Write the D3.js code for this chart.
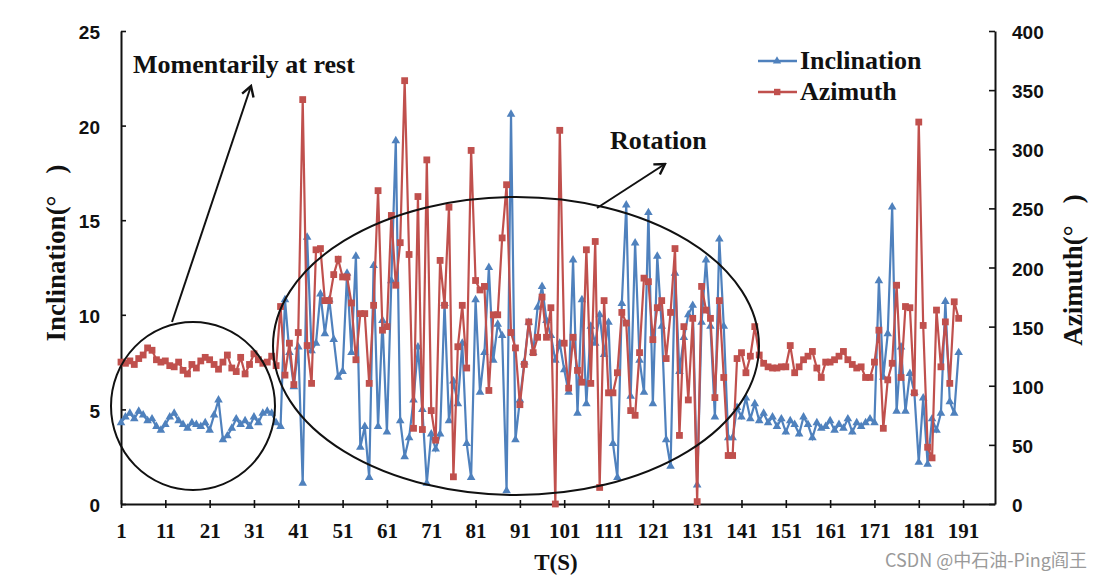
<!DOCTYPE html>
<html><head><meta charset="utf-8">
<script src="https://cdn.jsdelivr.net/npm/d3@7"></script>
<style>
body{margin:0;background:#fff}
svg{display:block}
.serif{font-family:"Liberation Serif","Times New Roman",serif;font-weight:bold;fill:#111}
.sans{font-family:"Liberation Sans",Arial,sans-serif;font-weight:bold;fill:#111}
</style>
</head><body>
<svg id="chart" width="1100" height="577"></svg>
<script>
const timeLabels = [1,11,21,31,41,51,61,71,81,91,101,111,121,131,141,151,161,171,181,191];
const leftTicks = [0,5,10,15,20,25];
const rightTicks = [0,50,100,150,200,250,300,350,400];
const seriesNames = ["Inclination","Azimuth"];

const inclination = [
4.3,4.6,4.8,4.5,4.9,4.7,4.4,4.5,4.1,3.9,4.2,4.6,4.8,4.4,4.2,4.0,4.3,4.2,4.1,4.3,3.9,4.7,5.5,3.4,3.6,4.0,4.5,4.2,4.4,4.1,4.6,4.3,4.8,4.9,4.8,4.3,
4.1,10.8,8.0,6.2,8.3,1.1,14.1,8.1,8.5,11.1,9.0,10.8,8.7,6.7,7.0,12.2,8.0,13.1,3.0,4.1,1.4,12.6,
4.1,9.7,3.8,11.8,19.2,4.4,2.5,3.5,5.5,8.3,5.0,1.1,3.7,2.9,3.7,10.6,4.4,6.5,5.3,8.5,3.2,1.4,10.8,
5.9,8.0,12.5,7.6,9.5,8.9,0.7,20.6,3.4,5.5,7.5,9.6,8.0,10.4,11.5,9.7,8.9,7.6,8.5,7.1,
5.9,12.9,4.8,10.8,5.3,9.4,8.5,10.0,7.9,9.6,3.2,1.4,10.6,15.8,5.7,13.8,7.6,5.9,15.4,5.3,13.1,9.4,3.4,2.0,
12.2,7.0,8.8,10.0,10.5,1.0,9.6,12.9,9.4,4.6,14.0,9.4,3.5,3.5,5.1,4.6,5.6,4.5,5.3,
4.4,4.8,4.3,4.6,4.1,4.5,3.8,4.4,4.2,3.7,4.6,4.2,3.5,4.3,4.0,4.1,4.4,3.9,4.2,4.0,4.5,3.8,4.3,4.1,4.3,4.5,4.3,11.8,
6.7,9.0,15.7,4.9,8.3,4.9,6.9,5.9,2.2,5.6,2.1,4.5,3.9,4.8,10.7,5.4,4.8,8.0
];
const azimuth = [
120,119,121,118,123,126,132,130,122,120,121,117,116,120,113,110,118,115,121,124,122,118,114,120,126,115,112,124,110,118,127,122,119,120,125,117,
167,109,136,101,145,342,134,102,215,216,172,172,194,207,192,192,170,122,161,161,102,168,
265,147,150,244,185,221,358,211,64,260,63,291,79,54,206,168,251,23,133,168,115,299,189,
181,184,96,160,160,225,270,145,132,84,118,154,128,141,175,141,166,0,316,136,
98,141,113,103,215,102,222,14,172,94,94,111,162,153,79,75,128,191,188,139,166,172,123,162,
216,58,150,88,157,2,184,164,157,90,172,107,41,41,123,128,111,125,150,
126,119,116,115,115,116,116,134,111,116,122,125,129,115,107,120,120,122,125,129,122,118,115,116,107,107,120,147,
64,105,119,185,107,167,166,94,323,151,48,39,164,116,154,102,171,157
];

const BLUE = "#4F81BD", RED = "#C0504D";
const svg = d3.select("#chart");
const x = d3.scaleLinear().domain([1,198.2]).range([121,995]);
const yL = d3.scaleLinear().domain([0,25]).range([504,31]);
const yR = d3.scaleLinear().domain([0,400]).range([504,31]);

// axes
const gx = svg.append("g").attr("transform","translate(0,504)")
  .call(d3.axisBottom(x).tickValues(timeLabels).tickSizeInner(4).tickSizeOuter(0).tickPadding(15).tickFormat(d3.format("d")));
gx.selectAll(".tick line").attr("y1",-4).attr("y2",4).attr("stroke","#111").attr("stroke-width",1.6);
gx.select(".domain").attr("stroke","#111").attr("stroke-width",2);
gx.selectAll("text").attr("class","serif").attr("font-size",21).attr("fill","#111");

const gl = svg.append("g").attr("transform","translate(121,0)")
  .call(d3.axisLeft(yL).tickValues(leftTicks).tickSizeInner(-5).tickSizeOuter(0).tickPadding(21));
gl.select(".domain").attr("stroke","#111").attr("stroke-width",2);
gl.selectAll(".tick line").attr("stroke","#111").attr("stroke-width",1.6);
gl.selectAll("text").attr("class","sans").attr("font-size",19).attr("dy","0.4em");

const gr = svg.append("g").attr("transform","translate(995,0)")
  .call(d3.axisRight(yR).tickValues(rightTicks).tickSizeInner(-6).tickSizeOuter(0).tickPadding(17));
gr.select(".domain").attr("stroke","#111").attr("stroke-width",2);
gr.selectAll(".tick line").attr("stroke","#111").attr("stroke-width",1.6);
gr.selectAll("text").attr("class","sans").attr("font-size",19).attr("dy","0.4em");
svg.selectAll(".tick text").attr("fill","#111");

// series
const idx = d3.range(inclination.length);
const lineB = d3.line().x(i=>x(i+1)).y(i=>yL(inclination[i]));
const lineR = d3.line().x(i=>x(i+1)).y(i=>yR(azimuth[i]));
svg.append("path").attr("d",lineB(idx)).attr("fill","none").attr("stroke",BLUE).attr("stroke-width",2.2);
svg.append("g").selectAll("path").data(idx).join("path")
  .attr("d",d3.symbol(d3.symbolTriangle,32)())
  .attr("transform",i=>`translate(${x(i+1)},${yL(inclination[i])})`).attr("fill",BLUE);
svg.append("path").attr("d",lineR(idx)).attr("fill","none").attr("stroke",RED).attr("stroke-width",2.2);
svg.append("g").selectAll("rect").data(idx).join("rect")
  .attr("x",i=>x(i+1)-3.4).attr("y",i=>yR(azimuth[i])-3.4).attr("width",6.8).attr("height",6.8).attr("fill",RED);

// titles
function axisTitle(tx, ty, main, gap){
  const t = svg.append("text").attr("class","serif").attr("font-size",27).attr("text-anchor","middle")
    .attr("transform",`translate(${tx},${ty}) rotate(-90)`);
  t.append("tspan").text(main + "(°");
  t.append("tspan").attr("dx",gap).text(")");
}
axisTitle(65, 253, "Inclination", 22);
axisTitle(1082, 270, "Azimuth", 22);
svg.append("text").attr("class","serif").attr("font-size",23).attr("text-anchor","middle")
  .attr("x",556).attr("y",570).text("T(S)");

// legend
const leg = svg.append("g");
[[0,BLUE,"tri"],[1,RED,"sq"]].forEach(([k,c,m])=>{
  const yy = 61 + k*31;
  leg.append("line").attr("x1",758).attr("x2",797).attr("y1",yy).attr("y2",yy).attr("stroke",c).attr("stroke-width",2.5);
  if(m==="tri") leg.append("path").attr("d",d3.symbol(d3.symbolTriangle,30)()).attr("transform",`translate(777,${yy})`).attr("fill",c);
  else leg.append("rect").attr("x",774).attr("y",yy-3.2).attr("width",6.4).attr("height",6.4).attr("fill",c);
  leg.append("text").attr("class","serif").attr("font-size",26).attr("x",800).attr("y",yy+8).text(seriesNames[k]);
});

// annotations
const defs = svg.append("defs");
defs.append("marker").attr("id","arr").attr("viewBox","-12 -8 14 16").attr("refX",0).attr("refY",0)
  .attr("markerWidth",14).attr("markerHeight",16).attr("markerUnits","userSpaceOnUse").attr("orient","auto")
  .append("path").attr("d","M-10,-6 L0,0 L-10,6").attr("fill","none").attr("stroke","#111").attr("stroke-width",2.4);
svg.append("ellipse").attr("cx",193).attr("cy",406).attr("rx",82).attr("ry",84).attr("fill","none").attr("stroke","#111").attr("stroke-width",2);
svg.append("ellipse").attr("cx",516).attr("cy",346).attr("rx",243).attr("ry",149).attr("fill","none").attr("stroke","#111").attr("stroke-width",2);
svg.append("line").attr("x1",172).attr("y1",322).attr("x2",251).attr("y2",86).attr("stroke","#111").attr("stroke-width",2).attr("marker-end","url(#arr)");
svg.append("line").attr("x1",597).attr("y1",208).attr("x2",665).attr("y2",164).attr("stroke","#111").attr("stroke-width",2).attr("marker-end","url(#arr)");
svg.append("text").attr("class","serif").attr("font-size",26).attr("x",133).attr("y",73).text("Momentarily at rest");
svg.append("text").attr("class","serif").attr("font-size",26).attr("x",610).attr("y",149).text("Rotation");

// watermark
svg.append("text").attr("x",1087).attr("y",567).attr("text-anchor","end")
  .attr("font-family","'Noto Sans CJK SC',sans-serif").attr("font-size",18).attr("fill","#9a9a9a")
  .text("CSDN @中石油-Ping阎王");
</script>
</body></html>
